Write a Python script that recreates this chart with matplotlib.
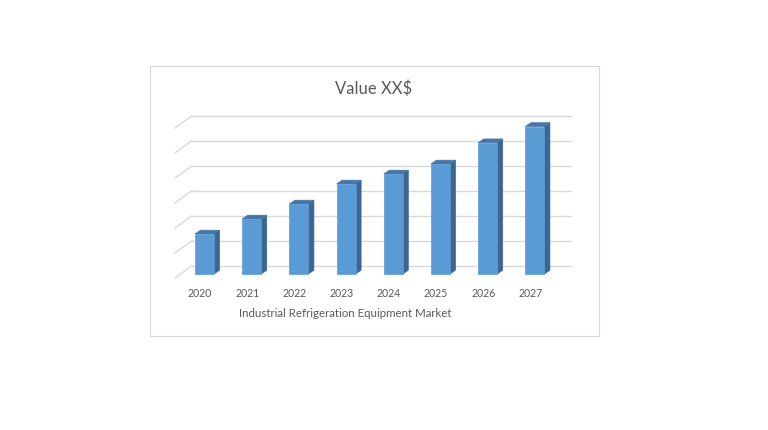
import matplotlib.pyplot as plt
from matplotlib.patches import Polygon, Rectangle

years = ['2020', '2021', '2022', '2023', '2024', '2025', '2026', '2027']
values = [1.6, 2.2, 2.8, 3.6, 4.0, 4.4, 5.25, 5.9]
n_grid = 7
title = 'Value XX$'
x_title = 'Industrial Refrigeration Equipment Market'

front_col = '#5B9BD5'
side_col = '#3A6690'
top_col = '#4676A8'
grid_col = '#D9D9D9'
text_col = '#595959'

plt.rcParams['font.family'] = ['Lato', 'DejaVu Sans']

fig = plt.figure(figsize=(7.68, 4.31), dpi=100)
W, H = 768, 431

# chart frame
fig.patches.append(Rectangle((149.5 / W, 1 - 336.5 / H), 449 / W, 270 / H,
                             transform=fig.transFigure, fill=False,
                             edgecolor=grid_col, linewidth=0.8))

# plot region in pixels
px_l, px_r, px_t, px_b = 170, 580, 110, 285
ax = fig.add_axes([px_l / W, 1 - px_b / H, (px_r - px_l) / W, (px_b - px_t) / H])
ppx = 47.2   # px per category
ppy = 25.0   # px per unit
x0_px, y0_px = 200, 266.7
ax.set_xlim((px_l - x0_px) / ppx, (px_r - x0_px) / ppx)
ax.set_ylim(-(px_b - y0_px) / ppy, (y0_px - px_t) / ppy)
ax.axis('off')

# back wall grid + floor diagonals
gx0 = (192 - x0_px) / ppx
gx1 = (571 - x0_px) / ppx
ddx = -17 / ppx
ddy = -12.3 / ppy
for g in range(n_grid):
    ax.plot([gx0, gx1], [g, g], color=grid_col, lw=1.0, zorder=1)
    ax.plot([gx0 + ddx, gx0], [g + ddy, g], color=grid_col, lw=1.0, zorder=1)

# 3D-ish bars
bw = 19 / ppx
off = 4.5 / ppx
bdx = 5.5 / ppx
bdy = 3.8 / ppy
base = -(275 - y0_px) / ppy
for i, v in enumerate(values):
    xl = i + off - bw / 2
    xr = xl + bw
    yt = base + v
    ax.add_patch(Polygon([(xr, base), (xr + bdx, base + bdy), (xr + bdx, yt + bdy), (xr, yt)],
                         closed=True, facecolor=side_col, edgecolor=side_col, lw=0.5, zorder=3))
    ax.add_patch(Polygon([(xl, yt), (xr, yt), (xr + bdx, yt + bdy), (xl + bdx, yt + bdy)],
                         closed=True, facecolor=top_col, edgecolor=top_col, lw=0.5, zorder=3))
    ax.add_patch(Rectangle((xl, base), bw, v, facecolor=front_col,
                           edgecolor=front_col, lw=0.5, zorder=4))
    ax.text(i, -(294 - y0_px) / ppy, years[i], ha='center', va='center',
            fontsize=7.6, color=text_col)

fig.text(374 / W, 1 - 89 / H, title, ha='center', va='center', fontsize=12, color=text_col)
fig.text(345.5 / W, 1 - 314 / H, x_title, ha='center', va='center', fontsize=8.3, color=text_col)

fig.savefig('out.png', dpi=100, facecolor='white')
